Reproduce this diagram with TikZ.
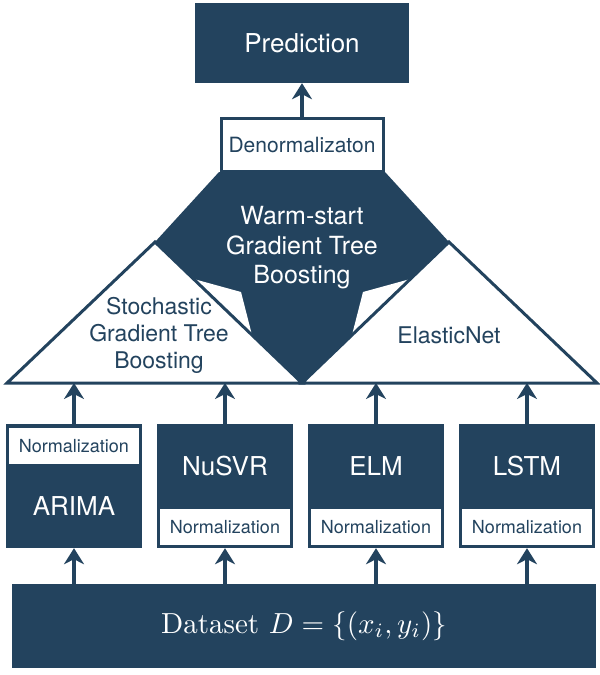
\documentclass[tikz,border=0pt]{standalone}
\usepackage{fontspec}
\usepackage{graphicx}
\usepackage{xcolor}
\usepackage{tikz}
\usetikzlibrary{arrows.meta,positioning,calc}
\newfontfamily\heros{TeX Gyre Heros}
\definecolor{navy}{RGB}{35,67,94}
\tikzstyle{model} = [rectangle, fill=navy, minimum width=136pt, minimum height=124pt, inner sep=0pt]
\tikzstyle{norm} = [rectangle, fill=white, text=navy, minimum width=130pt, minimum height=36pt, inner sep=0pt, font=\heros\fontsize{18}{18}\selectfont]
\tikzstyle{modelname} = [text=white, inner sep=0pt, font=\heros\fontsize{26}{26}\selectfont]
\tikzstyle{ens} = [align=center, text=navy, font=\heros\fontsize{23}{27}\selectfont]
\tikzstyle{arrow} = [line width=4pt, navy, -{Stealth[length=16pt,width=20pt,inset=5pt]}]

\begin{document}
\begin{tikzpicture}[x=1pt, y=-1pt, node distance=151pt]
    \useasboundingbox (0,0) rectangle (600,675);
    % Output
    \node [fill=navy, minimum width=214pt, minimum height=80pt, text=white, font=\heros\fontsize{26}{26}\selectfont] (pred) at (302,43) {Prediction};

    % Ensemble
    \coordinate (lbase) at (7,383);
    \coordinate (lapex) at (155,242);
    \coordinate (mid) at (302,383);
    \coordinate (rapex) at (449,242);
    \coordinate (rbase) at (597,383);
    \coordinate (topl) at (219,172);
    \coordinate (topr) at (385,172);
    \fill [navy] (topl) -- (lapex) -- (mid) -- (rapex) -- (topr) -- cycle;
    \fill [white] ($(lapex)!0.262!(mid)$) -- (241,292) -- ($(lapex)!0.66!(mid)$) -- cycle;
    \fill [white] ($(rapex)!0.262!(mid)$) -- (363,292) -- ($(rapex)!0.66!(mid)$) -- cycle;
    \filldraw [fill=white, draw=navy, line width=3pt] (lbase) -- (lapex) -- (mid) -- cycle;
    \filldraw [fill=white, draw=navy, line width=3pt] (mid) -- (rapex) -- (rbase) -- cycle;
    \node [draw=navy, line width=3pt, fill=white, text=navy, minimum width=162pt, minimum height=53pt, inner sep=0pt, font=\heros\fontsize{21}{21}\selectfont] (denorm) at (302,145) {Denormalizaton};
    \node [ens, text=white, font=\heros\fontsize{25}{29.5}\selectfont] (wgtb) at (302,248) {Warm-start\\Gradient Tree\\Boosting};
    \node [ens] (sgtb) at (159,335) {Stochastic\\Gradient Tree\\Boosting};
    \node [ens] (enet) at (449,335) {ElasticNet};

    % Base models
    \node [model] (arima) at (74,486) {};
    \node [model, right of=arima] (nusvr) {};
    \node [model, right of=nusvr] (elm) {};
    \node [model, right of=elm] (lstm) {};
    \node [norm, below=4pt of arima.north] (arimanorm) {Normalization};
    \node [norm, above=3pt of nusvr.south] (nusvrnorm) {Normalization};
    \node [norm, above=3pt of elm.south] (elmnorm) {Normalization};
    \node [norm, above=3pt of lstm.south] (lstmnorm) {Normalization};
    \node [modelname] at ($(arimanorm.south)!0.5!(arima.south)$) {ARIMA};
    \node [modelname] at ($(nusvr.north)!0.5!(nusvrnorm.north)$) {NuSVR};
    \node [modelname] at ($(elm.north)!0.5!(elmnorm.north)$) {ELM};
    \node [modelname] at ($(lstm.north)!0.5!(lstmnorm.north)$) {LSTM};

    % Input
    \node [fill=navy, minimum width=584pt, minimum height=84pt, text=white] (data) at (304,626) {\scalebox{2.9}{Dataset $D=\{(x_i,y_i)\}$}};

    % Arrows
    \draw [arrow] (denorm.north) -- (pred.south);
    \foreach \m in {arima,nusvr,elm,lstm} {
        \draw [arrow] (\m.north) -- (\m.north |- lbase);
        \draw [arrow] (\m.south |- data.north) -- (\m.south);
    }
\end{tikzpicture}
\end{document}
